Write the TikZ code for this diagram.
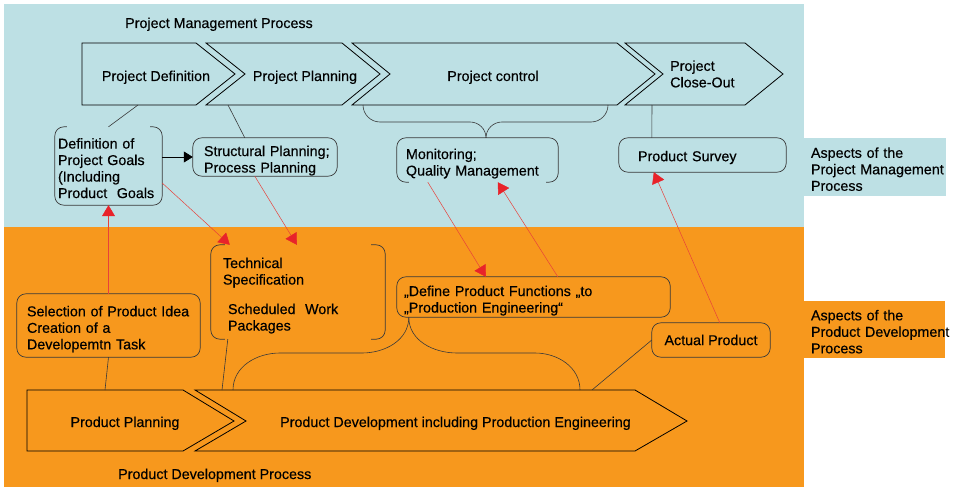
\documentclass[tikz,border=0pt]{standalone}
\usepackage{fontspec}
\setmainfont{Liberation Sans}[UprightFeatures={FakeBold=0.4}]
\usetikzlibrary{arrows.meta,calc}
\definecolor{pmblue}{HTML}{BDE0E4}
\definecolor{pdorange}{HTML}{F7981D}
\definecolor{linkred}{HTML}{E8413A}
\definecolor{headred}{HTML}{E8232A}
\definecolor{edgegray}{HTML}{3A3A3A}
% a block of left-aligned lines that is never re-broken, set a little low
\newcommand\boxlines[1]{\raisebox{-4pt}[\height][\depth]{\begin{tabular}{@{}l@{}}#1\end{tabular}}}

\begin{document}
\begin{tikzpicture}[x=1pt,y=-1pt,
  font=\fontsize{14.3}{16.5}\selectfont,
  every node/.style={inner sep=0pt},
  chevron/.style={draw=black, line width=0.8pt, line join=miter},
  box/.style={align=left},
  outline/.style={draw=edgegray, line width=0.7pt, rounded corners=9pt},
  link/.style={draw=edgegray, line width=0.6pt},
  redarrow/.style={draw=linkred, line width=0.5pt,
    -{Triangle[length=11pt,width=13pt,color=headred,fill=headred]}},
  blackarrow/.style={draw=black, line width=0.7pt,
    -{Triangle[length=9pt,width=11pt,fill=black]}},
]
\useasboundingbox (0,0) rectangle (956,487);

% two process bands
\fill[pmblue] (4,4) rectangle (804,227);
\fill[pdorange] (4,227) rectangle (804,487);

% side captions
\node[fill=pmblue, minimum width=142pt, minimum height=58pt, text width=128pt,
      inner xsep=7pt, align=left] (pmaspect) at (875,167)
  {\boxlines{Aspects of the\\Project Management\\Process}};
\node[fill=pdorange, minimum width=141pt, minimum height=57pt, text width=127pt,
      inner xsep=7pt, align=left] (pdaspect) at (874.5,329.5)
  {\boxlines{Aspects of the\\Product Development\\Process}};

% project management phases
\draw[chevron] (82,43) -- (196,43) -- (235,74) -- (196,105) -- (82,105) -- cycle;
\draw[chevron] (206,43) -- (342,43) -- (380,74) -- (342,105) -- (206,105) -- (245,74) -- cycle;
\draw[chevron] (352,43) -- (617,43) -- (655,74) -- (617,105) -- (352,105) -- (390,74) -- cycle;
\draw[chevron] (625,43) -- (745,43) -- (783,74) -- (745,105) -- (625,105) -- (663,74) -- cycle;

\node[anchor=base west] (pmtitle) at (125,28) {Project Management Process};
\node[anchor=base] (pdef) at (156,81) {Project Definition};
\node[anchor=base] (pplan) at (305,81) {Project Planning};
\node[anchor=base] (pctrl) at (493,81) {Project control};
\node[anchor=west, align=left] (pclose) at (670,74) {Project\\Close-Out};

% product development phases
\draw[chevron] (27,390) -- (183,390) -- (234,421) -- (183,451) -- (27,451) -- cycle;
\draw[chevron] (195,390) -- (635,390) -- (687,421) -- (635,451) -- (195,451) -- (246,421) -- cycle;

\node[anchor=base] (pplanning) at (125,427) {Product Planning};
\node[anchor=base west] (pdev) at (280,427) {Product Development including Production Engineering};
\node[anchor=base west] (pdtitle) at (118,479) {Product Development Process};

% points on the phase outlines
\coordinate (pdefB) at (138,105);
\coordinate (pplanB) at (228,105);
\coordinate (ctrlL) at (363,105);
\coordinate (ctrlR) at (608,105);
\coordinate (closeB) at (652,105);
\coordinate (planT) at (105,390);
\coordinate (devT1) at (222,390);
\coordinate (braceL) at (233,390);
\coordinate (braceR) at (580,390);
\coordinate (devT2) at (592,390);

% project management aspects
\node[box, minimum width=107pt, minimum height=78pt, text width=101pt, inner xsep=3pt]
  (goals) at (108.5,166) {\boxlines{Definition of\\Project Goals\\(Including\\Product~ Goals}};
\node[box, minimum width=144pt, minimum height=38pt, text width=122pt, inner xsep=11pt]
  (struct) at (265,157) {\boxlines{Structural Planning;\\Process Planning}};
\node[box, minimum width=161pt, minimum height=44pt, text width=143pt, inner xsep=9pt]
  (monit) at (477.5,160) {\boxlines{Monitoring;\\Quality Management}};
\node[box, minimum width=167pt, minimum height=34pt, text width=129pt, inner xsep=19pt]
  (survey) at (702.5,155) {\raisebox{-2.5pt}[\height][\depth]{Product Survey}};

% product development aspects
\node[box, minimum width=174pt, minimum height=94pt, text width=150pt, inner xsep=12pt]
  (techspec) at (298,292)
  {\boxlines{Technical\\Specification\\[13pt]\hspace*{5pt}Scheduled~ Work\\\hspace*{5pt}Packages}};
\node[box, minimum width=273pt, minimum height=40pt, text width=259pt, inner xsep=7pt]
  (funcs) at (533.5,297) {\boxlines{„Define Product Functions „to\\„Production Engineering“}};
\node[box, minimum width=183pt, minimum height=63pt, text width=163pt, inner xsep=10pt]
  (select) at (108.5,325.5) {\boxlines{Selection of Product Idea\\Creation of a\\Developemtn Task}};
\node[align=center, minimum width=118pt, minimum height=34pt]
  (actual) at (711,340) {Actual Product};

% box outlines
\draw[outline] ([xshift=12pt]goals.north west) -- (goals.north west) -- (goals.south west)
  -- (goals.south east) -- (goals.north east) -- ([xshift=-12pt]goals.north east);
\draw[outline] (struct.north west) rectangle (struct.south east);
\draw[outline] ([xshift=12pt]monit.south west) -- (monit.south west) -- (monit.north west)
  -- (monit.north east) -- (monit.south east) -- ([xshift=-12pt]monit.south east);
\draw[outline] (survey.north west) rectangle (survey.south east);
\draw[outline] ([xshift=14pt]techspec.north west) -- (techspec.north west)
  -- (techspec.south west) -- ([xshift=14pt]techspec.south west);
\draw[outline] ([xshift=-14pt]techspec.north east) -- (techspec.north east)
  -- (techspec.south east) -- ([xshift=-14pt]techspec.south east);
\draw[outline] (funcs.north west) rectangle (funcs.south east);
\draw[outline] (select.north west) rectangle (select.south east);
\draw[outline] (actual.north west) rectangle (actual.south east);

% phase-to-aspect links
\draw[link] (pdefB) -- (goals.north);
\draw[link] (pplanB) -- ([xshift=52pt]struct.north west);
\draw[link] (ctrlL) to[out=-90,in=180] (380,122) -- (470,122)
  to[out=0,in=90] ([xshift=8.5pt]monit.north);
\draw[link] ([xshift=8.5pt]monit.north) to[out=90,in=180] (502,122) -- (591,122)
  to[out=0,in=-90] (ctrlR);
\draw[link] (closeB) -- ([xshift=33pt]survey.north west);
\draw[link] (select.south) -- (planT);
\draw[link] ([xshift=17pt]techspec.south west) -- (devT1);
\draw[link] (braceL) to[out=90,in=180] (280,353) -- (362,353)
  to[out=0,in=-90] ([xshift=12pt]funcs.south west);
\draw[link] ([xshift=12pt]funcs.south west) to[out=-90,in=180] (457,353) -- (535,353)
  to[out=0,in=90] (braceR);
\draw[link] (devT2) -- (actual.west);

% dependencies between aspects
\draw[blackarrow] (goals.east |- struct.west) -- (struct.west);
\draw[redarrow] (select.north) -- (goals.south);
\draw[redarrow] ([yshift=-17pt]goals.east) -- ([xshift=19pt]techspec.north west);
\draw[redarrow] ([xshift=62pt]struct.south west) -- ([xshift=86pt]techspec.north west);
\draw[redarrow] ([xshift=31pt]monit.south west) -- ([xshift=89pt]funcs.north west);
\draw[redarrow] ([xshift=161pt]funcs.north west) -- ([xshift=101pt]monit.south west);
\draw[redarrow] ([xshift=68pt]actual.north west) -- ([xshift=35pt]survey.south west);
\end{tikzpicture}
\end{document}
